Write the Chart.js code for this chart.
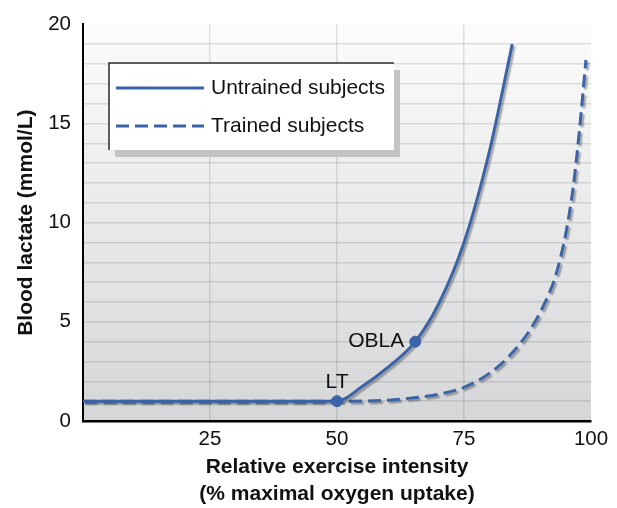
<!DOCTYPE html>
<html>
<head>
<meta charset="utf-8">
<title>Blood lactate vs exercise intensity</title>
<script src="https://cdn.jsdelivr.net/npm/chart.js@4.4.1/dist/chart.umd.min.js"></script>
<style>
  html, body { margin: 0; padding: 0; background: #fff; }
  #wrap { width: 617px; height: 508px; }
</style>
</head>
<body>
<div id="wrap"><canvas id="lactateChart" width="617" height="508"></canvas></div>
<script>
// values
const untrainedX = [0, 50, 55, 60, 65.4, 70, 75, 80, 84.5];
const untrainedY = [1, 1, 1.75, 2.7, 4, 5.9, 9, 13.6, 19];
const trainedX = [0, 50, 60, 66, 70, 75, 80, 84, 88, 91, 93, 95, 96.5, 97.7, 99];
const trainedY = [1, 1, 1.05, 1.2, 1.35, 1.7, 2.4, 3.3, 4.6, 6, 7.3, 9.4, 11.8, 14.6, 18.2];
const markerLabels = ['LT', 'OBLA'];
const markerX = [50, 65.4];
const markerY = [1, 4];
const xTicks = [25, 50, 75, 100];
const yTicks = [0, 5, 10, 15, 20];
const seriesLabels = ['Untrained subjects', 'Trained subjects'];

const FONT = '"Liberation Sans", Arial, Helvetica, sans-serif';
const BLUE = '#3b63a8';

const toPoints = (xs, ys) => xs.map((x, i) => ({ x: x, y: ys[i] }));

// gradient behind the plot area
const plotBackground = {
  id: 'plotBackground',
  beforeDraw(chart) {
    const { ctx, chartArea: a } = chart;
    const g = ctx.createLinearGradient(0, a.top, 0, a.bottom);
    g.addColorStop(0, '#fcfcfc');
    g.addColorStop(1, '#d5d6d8');
    ctx.save();
    ctx.fillStyle = g;
    ctx.fillRect(a.left, a.top, a.right - a.left, a.bottom - a.top);
    ctx.restore();
  }
};

// soft drop shadow under the two curves
const lineShadow = {
  id: 'lineShadow',
  beforeDatasetDraw(chart, args) {
    if (!args.meta.dataset) return;
    const ctx = chart.ctx;
    ctx.save();
    ctx.shadowColor = 'rgba(0,0,0,0.32)';
    ctx.shadowOffsetX = 2;
    ctx.shadowOffsetY = 2;
    ctx.shadowBlur = 1.5;
  },
  afterDatasetDraw(chart, args) {
    if (!args.meta.dataset) return;
    chart.ctx.restore();
  }
};

// LT / OBLA labels next to the marker points
const markerText = {
  id: 'markerText',
  afterDatasetsDraw(chart) {
    const { ctx, scales: { x, y } } = chart;
    ctx.save();
    ctx.font = '21px ' + FONT;
    ctx.fillStyle = '#111';
    ctx.textBaseline = 'middle';
    // LT sits above its point, OBLA to the left of it
    ctx.textAlign = 'center';
    ctx.fillText(markerLabels[0], x.getPixelForValue(markerX[0]), y.getPixelForValue(markerY[0]) - 19);
    ctx.textAlign = 'right';
    ctx.fillText(markerLabels[1], x.getPixelForValue(markerX[1]) - 11, y.getPixelForValue(markerY[1]));
    ctx.restore();
  }
};

// boxed legend inside the plot, with shadow on the right/bottom
const boxLegend = {
  id: 'boxLegend',
  afterDraw(chart) {
    const ctx = chart.ctx;
    const bx = 109, by = 63, bw = 285, bh = 87;
    ctx.save();
    ctx.fillStyle = '#c2c3c5';
    ctx.fillRect(bx + 6, by + 7, bw, bh);
    ctx.fillStyle = '#fff';
    ctx.fillRect(bx, by, bw, bh);
    ctx.strokeStyle = '#2a2a2a';
    ctx.lineWidth = 1.5;
    ctx.beginPath();
    ctx.moveTo(bx, by + bh);
    ctx.lineTo(bx, by);
    ctx.lineTo(bx + bw, by);
    ctx.stroke();

    const rows = [by + 25, by + 63];
    ctx.strokeStyle = BLUE;
    ctx.lineWidth = 3;
    rows.forEach((ry, i) => {
      ctx.setLineDash(i === 0 ? [] : [13, 6]);
      ctx.beginPath();
      ctx.moveTo(bx + 7, ry);
      ctx.lineTo(bx + 95, ry);
      ctx.stroke();
    });
    ctx.setLineDash([]);
    ctx.font = '21px ' + FONT;
    ctx.fillStyle = '#111';
    ctx.textBaseline = 'middle';
    ctx.textAlign = 'left';
    rows.forEach((ry, i) => ctx.fillText(chart.data.datasets[i].label, bx + 102, ry));
    ctx.restore();
  }
};

new Chart(document.getElementById('lactateChart'), {
  type: 'line',
  data: {
    datasets: [
      {
        label: seriesLabels[0],
        data: toPoints(untrainedX, untrainedY),
        borderColor: BLUE,
        borderWidth: 3,
        pointRadius: 0,
        cubicInterpolationMode: 'monotone',
        order: 1
      },
      {
        label: seriesLabels[1],
        data: toPoints(trainedX, trainedY),
        borderColor: BLUE,
        borderWidth: 3,
        borderDash: [13, 6],
        pointRadius: 0,
        cubicInterpolationMode: 'monotone',
        order: 2
      },
      {
        type: 'scatter',
        label: 'markers',
        data: toPoints(markerX, markerY),
        backgroundColor: BLUE,
        borderColor: BLUE,
        pointRadius: 5.5,
        showLine: false,
        order: 0
      }
    ]
  },
  options: {
    responsive: false,
    animation: false,
    layout: { padding: { top: 21, right: 26, left: 0, bottom: 0 } },
    plugins: {
      legend: { display: false },
      tooltip: { enabled: false }
    },
    scales: {
      x: {
        type: 'linear',
        min: 0,
        max: 100,
        afterFit(scale) { scale.height = 87; },
        afterBuildTicks(scale) { scale.ticks = [0].concat(xTicks).map(v => ({ value: v })); },
        ticks: {
          padding: 6,
          autoSkip: false,
          maxRotation: 0,
          color: '#111',
          font: { family: FONT, size: 20.5 },
          callback: v => (xTicks.includes(v) ? v : '')
        },
        grid: {
          drawTicks: false,
          lineWidth: 1.5,
          color: c => (c.tick && (c.tick.value === 0 || c.tick.value === 100) ? 'rgba(0,0,0,0)' : 'rgba(0,0,0,0.11)')
        },
        border: { display: true, color: '#000', width: 2.5 },
        title: {
          display: true,
          text: ['Relative exercise intensity', '(% maximal oxygen uptake)'],
          color: '#111',
          font: { family: FONT, size: 21, weight: 'bold', lineHeight: 1.25 },
          padding: { top: 0, bottom: 1 }
        }
      },
      y: {
        min: 0,
        max: 20,
        afterFit(scale) { scale.width = 83; },
        ticks: {
          stepSize: 1,
          padding: 12,
          autoSkip: false,
          color: '#111',
          font: { family: FONT, size: 20.5 },
          callback: v => (yTicks.includes(v) ? v : '')
        },
        grid: {
          drawTicks: false,
          lineWidth: 1.5,
          color: c => (c.tick && (c.tick.value === 0 || c.tick.value === 20) ? 'rgba(0,0,0,0)' : 'rgba(0,0,0,0.11)')
        },
        border: { display: true, color: '#000', width: 2 },
        title: {
          display: true,
          text: 'Blood lactate (mmol/L)',
          color: '#111',
          font: { family: FONT, size: 21, weight: 'bold' },
          padding: { top: 14, bottom: 0 }
        }
      }
    }
  },
  plugins: [plotBackground, lineShadow, markerText, boxLegend]
});
</script>
</body>
</html>
